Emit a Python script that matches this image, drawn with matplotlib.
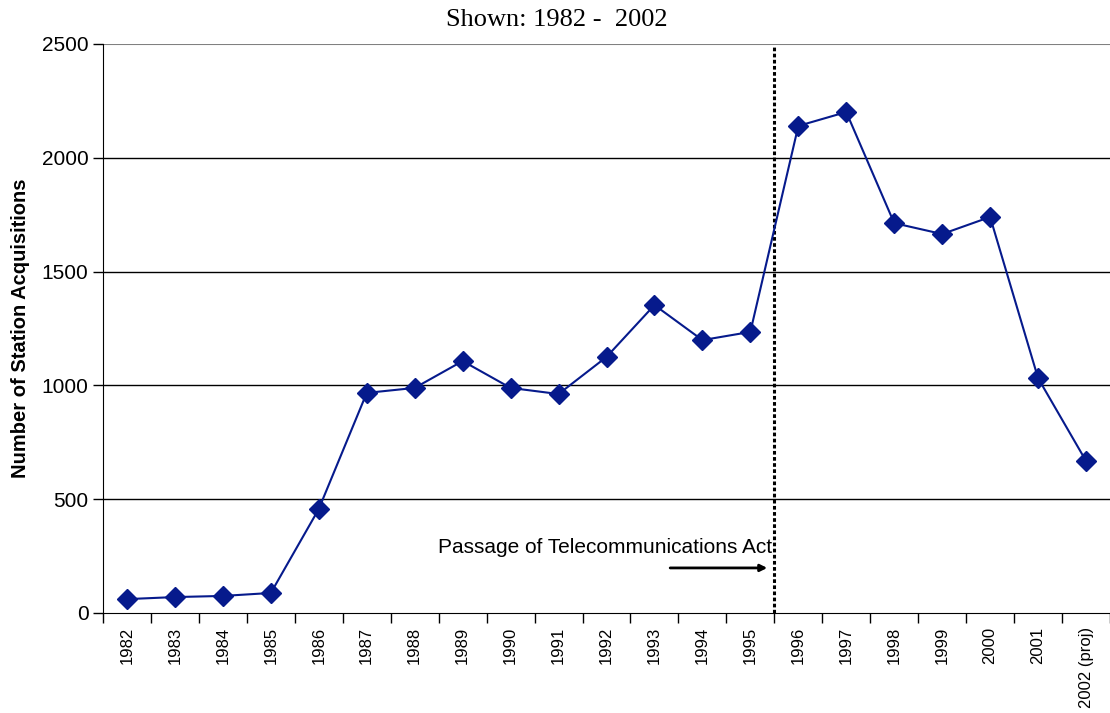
import numpy as np
import matplotlib.pyplot as plt

# station acquisitions per year
years = ['1982', '1983', '1984', '1985', '1986', '1987', '1988', '1989', '1990', '1991',
         '1992', '1993', '1994', '1995', '1996', '1997', '1998', '1999', '2000', '2001',
         '2002 (proj)']
acquisitions = [61, 70, 75, 88, 457, 967, 989, 1107, 989, 962,
                1125, 1353, 1199, 1235, 2140, 2201, 1713, 1665, 1740, 1032, 668]
y_ticks = [0, 500, 1000, 1500, 2000, 2500]

# Telecom Act passed between the 1995 and 1996 categories
act_pos = 13.5
act_label = 'Passage of Telecommunications Act'

fig = plt.figure(figsize=(11.1, 7.13), dpi=100)
ax = fig.add_axes([103/1110, 1 - 613/713, 1 - 103/1110, (613 - 44)/713])

x = np.arange(len(years))
ax.plot(x, acquisitions, color='#061a8c', lw=1.5, marker='D', ms=10,
        markerfacecolor='#061a8c', markeredgecolor='#061a8c', zorder=3)

ax.set_xlim(-0.5, len(years) - 0.5)
ax.set_ylim(0, 2500)

# gridlines
for v in y_ticks[1:-1]:
    ax.axhline(v, color='black', lw=1, zorder=1)
ax.axhline(2500, color='#808080', lw=1.5, zorder=1)

# act marker line and arrow
ax.plot([act_pos, act_pos], [0, 2490], color='black', lw=2.2, ls=(0, (1.2, 0.8)), zorder=2)
ax.annotate('', xy=(act_pos - 0.09, 198), xytext=(act_pos - 2.23, 198),
            arrowprops=dict(arrowstyle='-|>', color='black', lw=2, mutation_scale=10))
ax.text(act_pos - 0.04, 286, act_label, ha='right', va='center',
        fontsize=15, family='Liberation Sans')

ax.set_xticks(np.arange(len(years) + 1) - 0.5)
ax.set_xticklabels([])
ax.set_xticks(x, minor=True)
ax.set_xticklabels(years, minor=True, rotation=90, va='top', ha='center',
                   fontsize=12, family='Liberation Sans')
ax.tick_params(axis='x', which='minor', length=0, pad=10)
ax.tick_params(axis='x', which='major', length=7, width=1)

ax.set_yticks(y_ticks)
ax.set_yticklabels([str(v) for v in y_ticks], fontsize=15, family='Liberation Sans')
ax.tick_params(axis='y', length=7, width=1)

ax.set_ylabel('Number of Station Acquisitions', fontsize=14.5, fontweight='bold',
              family='Liberation Sans', labelpad=8)

ax.spines['top'].set_visible(False)
ax.spines['right'].set_visible(False)

fig.text(557/1110, 1 - 20/713, 'Shown: 1982 -  2002', ha='center', va='center',
         fontsize=19, family='Liberation Serif')

fig.savefig('out.png', dpi=100)
